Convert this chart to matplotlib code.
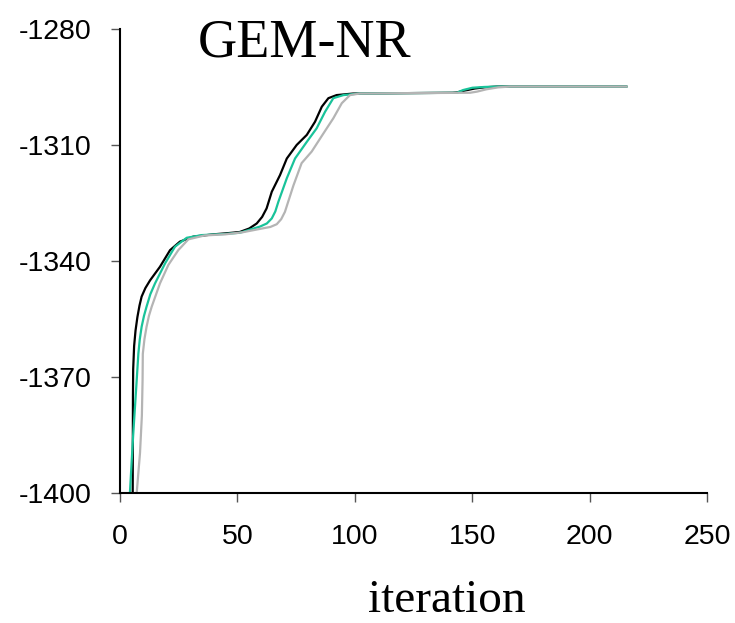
import matplotlib
matplotlib.use("Agg")
import matplotlib.pyplot as plt

# series (iteration, log-likelihood)
black_x = [5.4, 5.5, 5.6, 6.0, 6.6, 7.4, 8.3, 9.2, 10.8, 12.8, 17, 21.3, 25.5, 31.2, 40, 46,
           51, 55, 58.2, 60.5, 62.4, 64.6, 68.1, 71, 75.2, 79.5, 83, 85.9, 88.7, 92.2, 99.2,
           120, 141.5, 143.4, 147, 151, 155, 160.3, 215.5]
black_y = [-1400, -1375, -1368, -1362, -1358, -1354.5, -1351.5, -1349.2, -1347, -1345,
           -1341.5, -1337.2, -1335, -1333.7, -1333.1, -1332.8, -1332.5, -1331.6, -1330.3,
           -1328.6, -1326.4, -1322.1, -1317.8, -1313.5, -1310, -1307.4, -1304, -1300.1,
           -1297.9, -1297.1, -1296.7, -1296.6, -1296.5, -1296.4, -1295.9, -1295.4, -1295.1,
           -1294.9, -1294.9]

green_x = [4.2, 5.6, 7.1, 7.8, 8.4, 9.2, 10.2, 11.3, 12.9, 14.9, 19.2, 23.4, 28.4, 35, 45,
           51, 59.6, 62.5, 64.6, 66.1, 67.4, 71, 74.5, 79.5, 83.7, 87.3, 90.8, 95.1, 101.6,
           120, 143.4, 146, 150, 155, 160.3, 215.5]
green_y = [-1400, -1385, -1370.8, -1364, -1360.3, -1357, -1354.2, -1351.8, -1348.6, -1345.8,
           -1340.6, -1336.3, -1334, -1333.3, -1333, -1332.7, -1331.1, -1330.3, -1329,
           -1327.2, -1324.7, -1318.6, -1313.5, -1309.2, -1305.7, -1301.4, -1297.9, -1297.1,
           -1296.7, -1296.6, -1296.5, -1295.8, -1295.2, -1295, -1294.9, -1294.9]

gray_x = [7.1, 8.5, 9.3, 9.6, 9.7, 10.4, 11.3, 12.3, 13.5, 17, 20.6, 24.8, 29.1, 36, 45, 52,
          59.6, 64, 66.7, 68.6, 70.2, 73.8, 77.3, 81.6, 86.6, 90.8, 94.4, 97.9, 102, 120,
          149, 152, 156, 161, 166, 215.5]
gray_y = [-1400, -1389.7, -1380, -1370.8, -1364, -1360.2, -1357, -1354.2, -1351.8, -1345.8,
          -1341, -1337.2, -1334.4, -1333.4, -1333.1, -1332.6, -1331.7, -1331.2, -1330.5,
          -1329.2, -1327.3, -1320.5, -1314.7, -1311.7, -1307, -1303.1, -1299.2, -1297.1,
          -1296.7, -1296.6, -1296.5, -1296.2, -1295.6, -1295.1, -1294.9, -1294.9]

xticks = [0, 50, 100, 150, 200, 250]
yticks = [-1400, -1370, -1340, -1310, -1280]

fig = plt.figure(figsize=(7.35, 6.23), dpi=100)
ax = fig.add_axes([0.1633, 0.2087, 0.799, 0.7448])

ax.plot(black_x, black_y, color="black", lw=1.6, solid_joinstyle="round")
ax.plot(green_x, green_y, color="#19c39a", lw=1.6, solid_joinstyle="round")
ax.plot(gray_x, gray_y, color="#b4b4b4", lw=1.6, solid_joinstyle="round")

ax.set_xlim(0, 250)
ax.set_ylim(-1400, -1280)
ax.set_xticks(xticks)
ax.set_yticks(yticks)
ax.set_xticklabels([str(t) for t in xticks], fontfamily="Liberation Sans", fontsize=20.5)
ax.set_yticklabels([str(t) for t in yticks], fontfamily="Liberation Sans", fontsize=20.5)
ax.tick_params(axis="x", length=6.5, width=1, color="#555555", pad=16)
ax.tick_params(axis="y", length=6.5, width=1, color="#555555", pad=14)

for s in ["top", "right"]:
    ax.spines[s].set_visible(False)
for s in ["left", "bottom"]:
    ax.spines[s].set_linewidth(1.5)

fig.text(305 / 735, 1 - 43 / 623, "GEM-NR", fontfamily="Liberation Serif", fontsize=39,
         ha="center", va="center")
fig.text(447 / 735, 1 - 601 / 623, "iteration", fontfamily="Liberation Serif", fontsize=34,
         ha="center", va="center")

fig.savefig("out.png", dpi=100)
